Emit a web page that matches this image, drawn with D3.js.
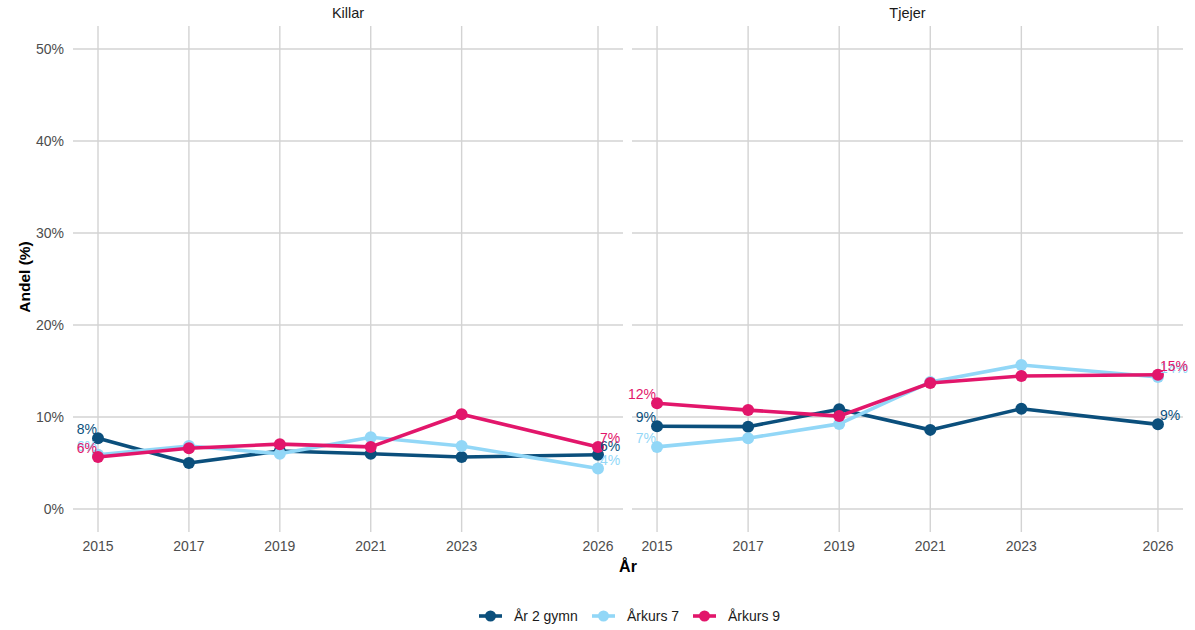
<!DOCTYPE html>
<html>
<head>
<meta charset="utf-8">
<script src="https://cdn.jsdelivr.net/npm/d3@7"></script>
<style>
  body { margin: 0; background: #fff; font-family: "Liberation Sans", Arial, sans-serif; }
</style>
</head>
<body>
<div id="chart"></div>
<script>
const years = [2015, 2017, 2019, 2021, 2023, 2026];
const yTicks = [0, 10, 20, 30, 40, 50];
const panels = ["Killar", "Tjejer"];
const seriesNames = ["År 2 gymn", "Årkurs 7", "Årkurs 9"];
const seriesColors = ["#0b4f7c", "#92d7f7", "#e2166b"];

// values in percent, per panel
const killarGymn2 = [7.7, 5.0, 6.3, 6.0, 5.65, 5.9];
const killarAk7   = [5.9, 6.85, 6.0, 7.8, 6.85, 4.4];
const killarAk9   = [5.65, 6.6, 7.05, 6.75, 10.3, 6.75];
const tjejerGymn2 = [9.0, 8.95, 10.85, 8.6, 10.9, 9.2];
const tjejerAk7   = [6.75, 7.7, 9.25, 13.8, 15.65, 14.35];
const tjejerAk9   = [11.5, 10.75, 10.1, 13.7, 14.45, 14.6];

const panelData = [
  [killarGymn2, killarAk7, killarAk9],
  [tjejerGymn2, tjejerAk7, tjejerAk9]
];

const W = 1195, H = 630;
const svg = d3.select("#chart").append("svg").attr("width", W).attr("height", H);

const panelX = [[73, 623], [632, 1183]];
const plotTop = 26, plotBottom = 532;

const y = d3.scaleLinear().domain([-2.5, 52.5]).range([plotBottom, plotTop]);

panels.forEach((name, pi) => {
  const x = d3.scaleLinear().domain([2015 - 0.55, 2026 + 0.55]).range(panelX[pi]);
  const g = svg.append("g");

  // grid
  g.selectAll(".hg").data(yTicks).join("line")
    .attr("x1", panelX[pi][0]).attr("x2", panelX[pi][1])
    .attr("y1", d => y(d)).attr("y2", d => y(d))
    .attr("stroke", "#d3d3d3").attr("stroke-width", 1.4);
  g.selectAll(".vg").data(years).join("line")
    .attr("x1", d => x(d)).attr("x2", d => x(d))
    .attr("y1", plotTop).attr("y2", plotBottom)
    .attr("stroke", "#d3d3d3").attr("stroke-width", 1.4);

  // strip title
  g.append("text").attr("x", (panelX[pi][0] + panelX[pi][1]) / 2).attr("y", 18)
    .attr("text-anchor", "middle").attr("font-size", 14.5).attr("fill", "#1a1a1a").text(name);

  // x tick labels
  g.selectAll(".xt").data(years).join("text")
    .attr("x", d => x(d)).attr("y", 551)
    .attr("text-anchor", "middle").attr("font-size", 14).attr("fill", "#4d4d4d")
    .text(d => d);

  if (pi === 0) {
    g.selectAll(".yt").data(yTicks).join("text")
      .attr("x", 64).attr("y", d => y(d) + 5)
      .attr("text-anchor", "end").attr("font-size", 14).attr("fill", "#4d4d4d")
      .text(d => d + "%");
  }

  const line = d3.line().x((d, i) => x(years[i])).y(d => y(d));
  panelData[pi].forEach((vals, si) => {
    const col = seriesColors[si];
    g.append("path").datum(vals).attr("d", line)
      .attr("fill", "none").attr("stroke", col).attr("stroke-width", 3.6)
      .attr("stroke-linejoin", "round");
    g.selectAll(".pt" + si).data(vals).join("circle")
      .attr("cx", (d, i) => x(years[i])).attr("cy", d => y(d)).attr("r", 6)
      .attr("fill", col);
  });

  // end labels
  panelData[pi].forEach((vals, si) => {
    const col = seriesColors[si];
    const last = vals.length - 1;
    g.append("text").attr("x", x(years[0]) - 1).attr("y", y(vals[0]) - 4)
      .attr("text-anchor", "end").attr("font-size", 14).attr("fill", col)
      .text(Math.round(vals[0]) + "%");
    g.append("text").attr("x", x(years[last]) + 2).attr("y", y(vals[last]) - 4)
      .attr("text-anchor", "start").attr("font-size", 14).attr("fill", col)
      .text(Math.round(vals[last]) + "%");
  });
});

// axis titles
svg.append("text").attr("x", 628).attr("y", 572).attr("text-anchor", "middle")
  .attr("font-size", 16).attr("font-weight", "bold").attr("fill", "#000").text("År");
svg.append("text").attr("transform", "translate(30,277) rotate(-90)")
  .attr("text-anchor", "middle").attr("font-size", 15.5).attr("font-weight", "bold")
  .attr("fill", "#000").text("Andel (%)");

// legend
const legendX = [479, 592, 693];
const leg = svg.append("g");
seriesNames.forEach((n, i) => {
  const lx = legendX[i];
  leg.append("line").attr("x1", lx).attr("x2", lx + 23).attr("y1", 616).attr("y2", 616)
    .attr("stroke", seriesColors[i]).attr("stroke-width", 3.6);
  leg.append("circle").attr("cx", lx + 11.5).attr("cy", 616).attr("r", 5.5).attr("fill", seriesColors[i]);
  leg.append("text").attr("x", lx + 35).attr("y", 621).attr("font-size", 14)
    .attr("fill", "#1a1a1a").text(n);
});
</script>
</body>
</html>
